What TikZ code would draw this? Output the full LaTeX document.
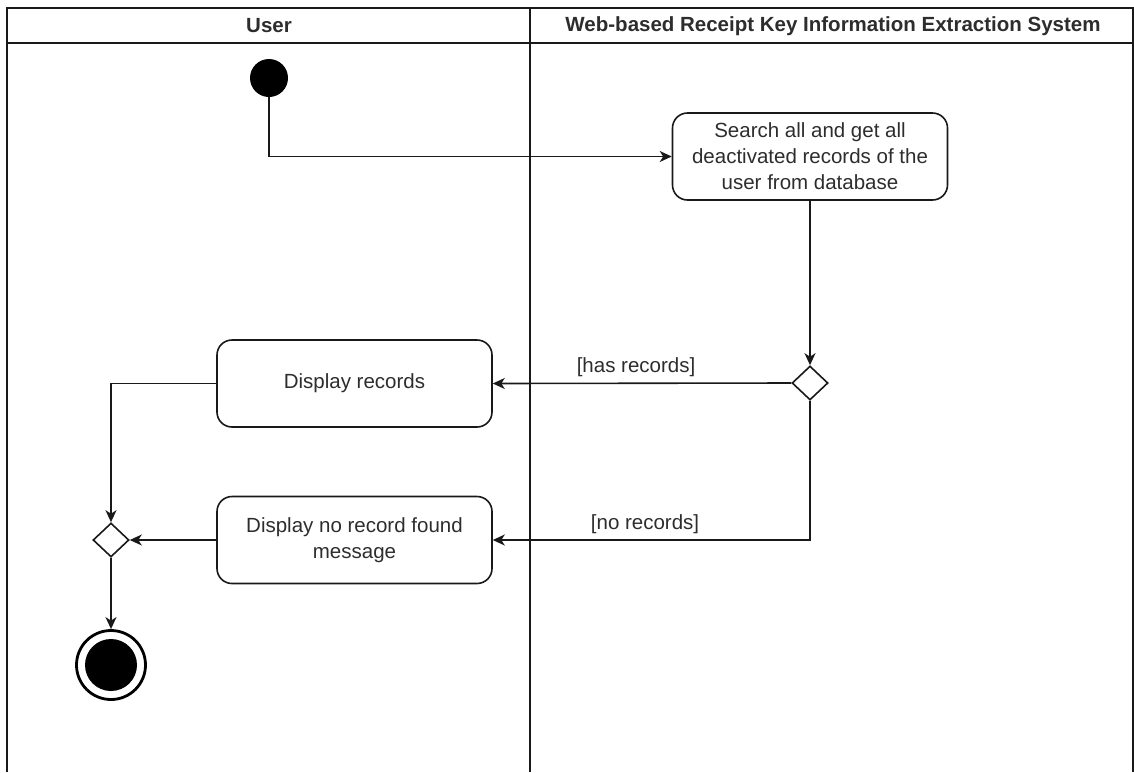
\documentclass[tikz,border=0pt]{standalone}
\usepackage{fontspec}
\setmainfont{Liberation Sans}
\usetikzlibrary{shapes.geometric,arrows.meta}
\definecolor{ink}{RGB}{25,25,25}
\definecolor{txt}{RGB}{45,45,45}
\tikzset{
  lane/.style={draw=ink, line width=1.6pt},
  action/.style={draw=ink, line width=1.6pt, rounded corners=15pt, minimum width=275pt,
    minimum height=87pt, align=center, text=txt, inner sep=4pt,
    font=\fontsize{20.5}{26}\selectfont},
  decision/.style={diamond, draw=ink, line width=1.6pt, minimum width=36pt,
    minimum height=34pt, inner sep=0pt, fill=white},
  initial/.style={circle, fill=black, minimum size=38pt, inner sep=0pt},
  final/.style={circle, draw=black, line width=2.8pt, minimum size=69pt, inner sep=0pt,
    path picture={\fill[black] (path picture bounding box.center) circle (26pt);}},
  flow/.style={draw=ink, line width=1.6pt, -{Stealth[length=12pt,width=11pt,inset=3.5pt]}},
  guard/.style={text=txt, font=\fontsize{20.5}{24}\selectfont},
  lanehead/.style={text=txt, font=\bfseries\fontsize{20.5}{24}\selectfont}
}
\begin{document}
\begin{tikzpicture}[x=1pt, y=-1pt]
  \useasboundingbox (0,0) rectangle (1134,772);

  % swimlane frame
  \draw[lane] (7,772) -- (7,8) -- (1133,8) -- (1133,772);
  \draw[lane] (7,43) -- (1133,43);
  \draw[lane] (530,8) -- (530,772);
  \node[lanehead] (hUser) at (269,26) {User};
  \node[lanehead] (hSys) at (833,26) {Web-based Receipt Key Information Extraction System};

  % activity nodes
  \node[initial] (start) at (269,78) {};
  \node[action] (search) at (810,156.5) {Search all and get all\\deactivated records of the\\user from database};
  \node[decision] (dec) at (810,383) {};
  \node[action] (recs) at (354.5,383.5) {Display records};
  \node[action] (norec) at (354.5,540) {Display no record found\\message};
  \node[decision] (merge) at (111,540) {};
  \node[final] (end) at (111,665) {};

  % control flows
  \draw[flow] (start) |- (search.west);
  \draw[flow] (search.south) -- (dec.north);
  \draw[flow] (dec.west) -- node[guard, above=2pt, pos=0.52] {[has records]} (recs.east);
  \draw[flow] (dec.south) |- node[guard, above=2pt, pos=0.76] {[no records]} (norec.east);
  \draw[flow] (recs.west) -| (merge.north);
  \draw[flow] (norec.west) -- (merge.east);
  \draw[flow] (merge.south) -- (end.north);
\end{tikzpicture}
\end{document}
